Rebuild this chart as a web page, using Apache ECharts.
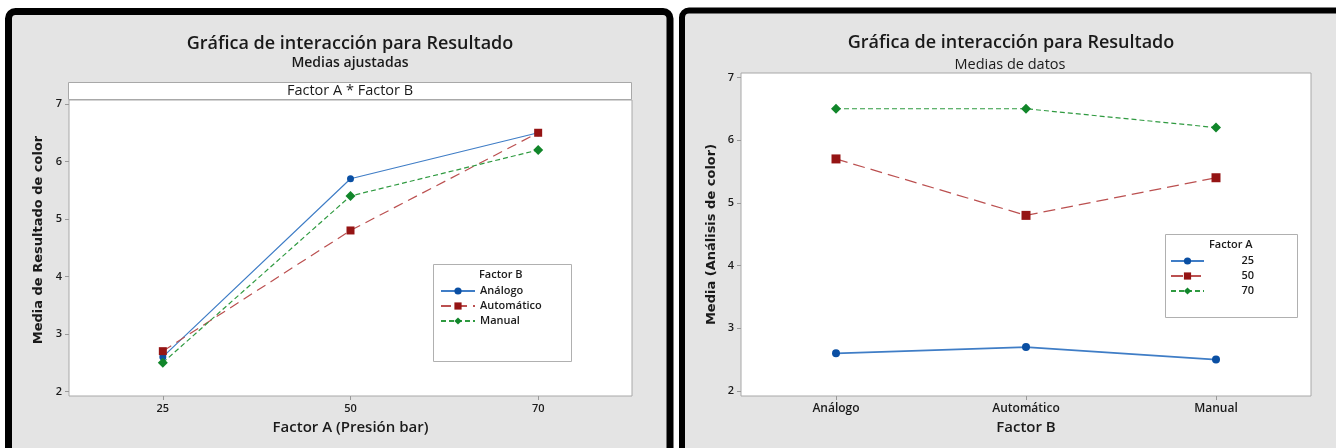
<!DOCTYPE html>
<html>
<head>
<meta charset="utf-8">
<script src="https://cdn.jsdelivr.net/npm/echarts@6/dist/echarts.min.js"></script>
<style>
html,body{margin:0;padding:0;background:#fff;}
#c{width:1336px;height:448px;}
</style>
</head>
<body>
<div id="c"></div>
<script>
// ---- data ----
var factorA = ['25', '50', '70'];
var factorB = ['Análogo', 'Automático', 'Manual'];
// Left: adjusted means, one series per Factor B level, x = Factor A
var adjAnalogo = [2.6, 5.7, 6.5];
var adjAutomatico = [2.7, 4.8, 6.5];
var adjManual = [2.5, 5.4, 6.2];
// Right: data means, one series per Factor A level, x = Factor B
var mean25 = [2.6, 2.7, 2.5];
var mean50 = [5.7, 4.8, 5.4];
var mean70 = [6.5, 6.5, 6.2];
var yTicks = [2, 3, 4, 5, 6, 7];

var FONT = '"Open Sans", "Noto Sans", sans-serif';
var AXF = '"DejaVu Sans", sans-serif';
var TXT = '#1a1a1a';

var BLUE_M = '#0a4fa3', BLUE_L = '#3f7dc6';
var RED_M = '#951414', RED_L = '#bb5050';
var GRN_M = '#11862a', GRN_L = '#2f9a40';

function xAx(gridIndex, cats, name, fs) {
  return {
    type: 'category', gridIndex: gridIndex, data: cats, boundaryGap: true,
    name: name, nameLocation: 'middle', nameGap: 24,
    nameTextStyle: {fontFamily: FONT, fontSize: 15, fontWeight: 600, color: TXT},
    axisLine: {show: false},
    axisTick: {show: true, alignWithLabel: true, length: 4, lineStyle: {color: '#999'}},
    axisLabel: {fontFamily: FONT, fontSize: fs, fontWeight: 600, color: TXT, margin: 7},
    splitLine: {show: false}
  };
}
function yAx(gridIndex, name, gap, pad) {
  return {
    type: 'value', gridIndex: gridIndex, min: 1.92, max: 7.07,
    name: name, nameLocation: 'middle', nameGap: gap, nameRotate: 90,
    nameTextStyle: {fontFamily: AXF, fontSize: 13, fontWeight: 'bold', color: TXT, padding: pad},
    axisLine: {show: false},
    axisTick: {show: true, length: 4, customValues: yTicks, lineStyle: {color: '#999'}},
    axisLabel: {fontFamily: FONT, fontSize: 11, fontWeight: 600, color: TXT, margin: 7,
      customValues: yTicks, formatter: function (v) { return String(Math.round(v)); }},
    splitLine: {show: false}
  };
}
function ser(name, data, xi, mColor, lColor, symbol, size, type, width) {
  return {
    name: name, type: 'line', xAxisIndex: xi, yAxisIndex: xi, data: data,
    symbol: symbol, symbolSize: size, showSymbol: true,
    itemStyle: {color: mColor},
    lineStyle: {color: lColor, width: width, type: type},
    emphasis: {disabled: true}, animation: false, z: 3
  };
}

var chart = echarts.init(document.getElementById('c'), null, {renderer: 'canvas'});
chart.setOption({
  animation: false,
  backgroundColor: '#fff',
  graphic: [
    {type: 'rect', z: -10, shape: {x: 8.5, y: 11.5, width: 661.5, height: 480, r: 7},
      style: {fill: '#e4e4e4', stroke: '#000', lineWidth: 7}},
    {type: 'rect', z: -10, shape: {x: 682, y: 10.5, width: 700, height: 480, r: 7},
      style: {fill: '#e4e4e4', stroke: '#000', lineWidth: 6}},
    // left titles
    {type: 'text', z: 5, x: 350, y: 44, style: {text: 'Gráfica de interacción para Resultado', font: '600 18px ' + FONT, fill: TXT, align: 'center', verticalAlign: 'middle'}},
    {type: 'text', z: 5, x: 350, y: 63.5, style: {text: 'Medias ajustadas', font: '600 14px ' + FONT, fill: TXT, align: 'center', verticalAlign: 'middle'}},
    {type: 'rect', z: 1, shape: {x: 68.5, y: 82.5, width: 563, height: 17}, style: {fill: '#fff', stroke: '#a8a8a8', lineWidth: 1}},
    {type: 'text', z: 5, x: 350, y: 91, style: {text: 'Factor A * Factor B', font: '400 14.5px ' + FONT, fill: TXT, align: 'center', verticalAlign: 'middle'}},
    // right titles
    {type: 'text', z: 5, x: 1011, y: 43, style: {text: 'Gráfica de interacción para Resultado', font: '600 18px ' + FONT, fill: TXT, align: 'center', verticalAlign: 'middle'}},
    {type: 'text', z: 5, x: 1010, y: 65, style: {text: 'Medias de datos', font: '400 14.5px ' + FONT, fill: TXT, align: 'center', verticalAlign: 'middle'}},
    // legend boxes
    {type: 'rect', z: 3, shape: {x: 433.5, y: 264.5, width: 138, height: 97}, style: {fill: '#fff', stroke: '#b0b0b0', lineWidth: 1}},
    {type: 'text', z: 5, x: 479, y: 275, style: {text: 'Factor B', font: '600 11px ' + FONT, fill: TXT, align: 'left', verticalAlign: 'middle'}},
    {type: 'rect', z: 3, shape: {x: 1165.5, y: 234.5, width: 132, height: 83}, style: {fill: '#fff', stroke: '#b0b0b0', lineWidth: 1}},
    {type: 'text', z: 5, x: 1209, y: 245, style: {text: 'Factor A', font: '600 11px ' + FONT, fill: TXT, align: 'left', verticalAlign: 'middle'}}
  ],
  grid: [
    {left: 69, top: 100, width: 563, height: 296, show: true, backgroundColor: '#fff', borderColor: '#a8a8a8', borderWidth: 1, z: 0},
    {left: 741, top: 73, width: 570, height: 323, show: true, backgroundColor: '#fff', borderColor: '#a8a8a8', borderWidth: 1, z: 0}
  ],
  xAxis: [xAx(0, factorA, 'Factor A (Presión bar)', 11), xAx(1, factorB, 'Factor B', 12)],
  yAxis: [yAx(0, 'Media de Resultado de color', 24, [0, 0, 0, 16]), yAx(1, 'Media (Análisis de color)', 23, 0)],
  legend: [
    {orient: 'vertical', left: 440, top: 284, padding: 0, itemWidth: 34, itemHeight: 9, itemGap: 1, z: 6,
      textStyle: {fontFamily: FONT, fontSize: 11, fontWeight: 600, color: TXT, lineHeight: 14},
      data: factorB, selectedMode: false},
    {orient: 'vertical', left: 1170, top: 254, padding: 0, itemWidth: 33, itemHeight: 9, itemGap: 1, z: 6,
      formatter: '{r|{name}}',
      textStyle: {fontFamily: FONT, fontSize: 11, fontWeight: 600, color: TXT, lineHeight: 14,
        rich: {r: {width: 45, align: 'right', fontFamily: FONT, fontSize: 11, fontWeight: 600, color: TXT, lineHeight: 14}}},
      data: ['25', '50', '70'], selectedMode: false}
  ],
  series: [
    ser('Análogo', adjAnalogo, 0, BLUE_M, BLUE_L, 'circle', 7, 'solid', 1.2),
    ser('Automático', adjAutomatico, 0, RED_M, RED_L, 'rect', 8, [10, 6], 1.2),
    ser('Manual', adjManual, 0, GRN_M, GRN_L, 'diamond', 10, [5, 3], 1.2),
    ser('25', mean25, 1, BLUE_M, BLUE_L, 'circle', 8, 'solid', 1.8),
    ser('50', mean50, 1, RED_M, RED_L, 'rect', 9, [12, 6], 1.2),
    ser('70', mean70, 1, GRN_M, GRN_L, 'diamond', 10, [5, 3], 1.2)
  ]
});
</script>
</body>
</html>
